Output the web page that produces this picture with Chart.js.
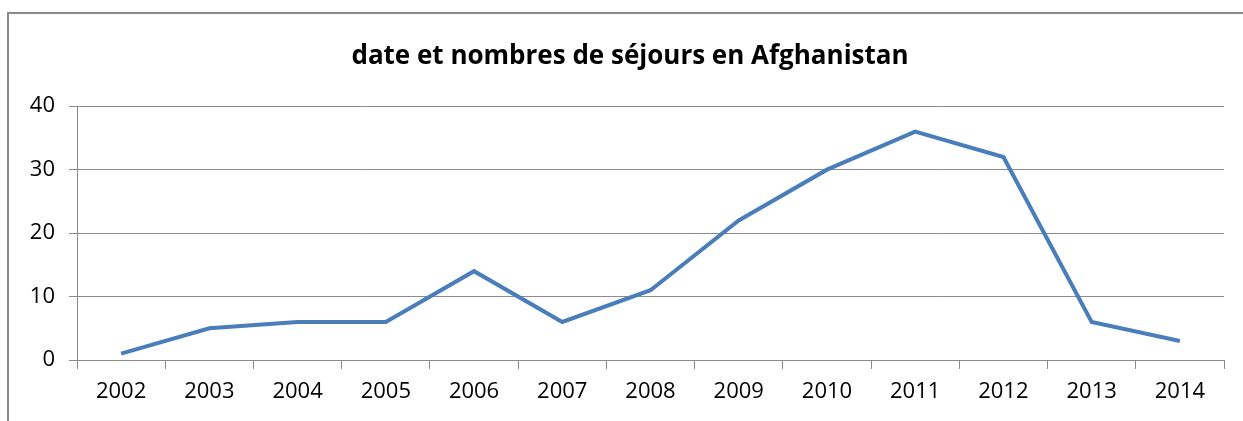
<!DOCTYPE html>
<html>
<head>
<meta charset="utf-8">
<script src="https://cdn.jsdelivr.net/npm/chart.js@4"></script>
<style>
  html, body { margin: 0; padding: 0; background: #fff; overflow: hidden; }
  #wrap { position: relative; width: 1243px; height: 421px; }
  #frame { position: absolute; left: 7px; top: 12px; width: 1250px; height: 430px;
           border-left: 2px solid #8a8a8a; border-top: 2px solid #8a8a8a; }
  canvas { position: absolute; left: 0; top: 0; }
</style>
</head>
<body>
<div id="wrap">
  <div id="frame"></div>
  <canvas id="c" width="1243" height="421"></canvas>
</div>
<script>
// donnees
const annees = ["2002","2003","2004","2005","2006","2007","2008","2009","2010","2011","2012","2013","2014"];
const sejours = [1, 5, 6, 6, 14, 6, 11, 22, 30, 36, 32, 6, 3];
const titre = "date et nombres de séjours en Afghanistan";

const POLICE = "'Open Sans', 'Noto Sans', sans-serif";
const GRIS = "#8c8c8c";

// decale le titre vers la droite (centre ~630 comme dans l'original)
const decalerTitre = {
  id: "decalerTitre",
  afterLayout(chart) {
    if (chart.titleBlock) chart.titleBlock.left = 36;
  },
};

new Chart(document.getElementById("c"), {
  type: "line",
  data: {
    labels: annees,
    datasets: [{
      data: sejours,
      borderColor: "#4a7ebb",
      borderWidth: 4,
      pointRadius: 0,
      tension: 0,
      fill: false,
    }],
  },
  plugins: [decalerTitre],
  options: {
    responsive: false,
    animation: false,
    layout: { padding: { left: 0, right: 19, top: 0, bottom: 0 } },
    plugins: {
      legend: { display: false },
      tooltip: { enabled: false },
      title: {
        display: true,
        text: titre,
        color: "#000",
        font: { family: POLICE, size: 26, weight: "bold", lineHeight: 1.2 },
        padding: { top: 41, bottom: 34 },
      },
    },
    scales: {
      x: {
        offset: true,
        grid: { display: true, drawOnChartArea: false, drawTicks: true, tickLength: 9, color: GRIS, offset: true },
        border: { display: true, color: GRIS, width: 1 },
        ticks: { color: "#000", font: { family: POLICE, size: 22 }, padding: 10, maxRotation: 0, autoSkip: false },
        afterFit: (s) => { s.height = 61; },
      },
      y: {
        min: 0,
        max: 40,
        ticks: { stepSize: 10, color: "#000", font: { family: POLICE, size: 22 }, padding: 14 },
        grid: { color: GRIS, tickLength: 8, drawTicks: true },
        border: { display: true, color: GRIS, width: 1 },
        afterFit: (s) => { s.width = 77; },
      },
    },
  },
});
</script>
</body>
</html>
